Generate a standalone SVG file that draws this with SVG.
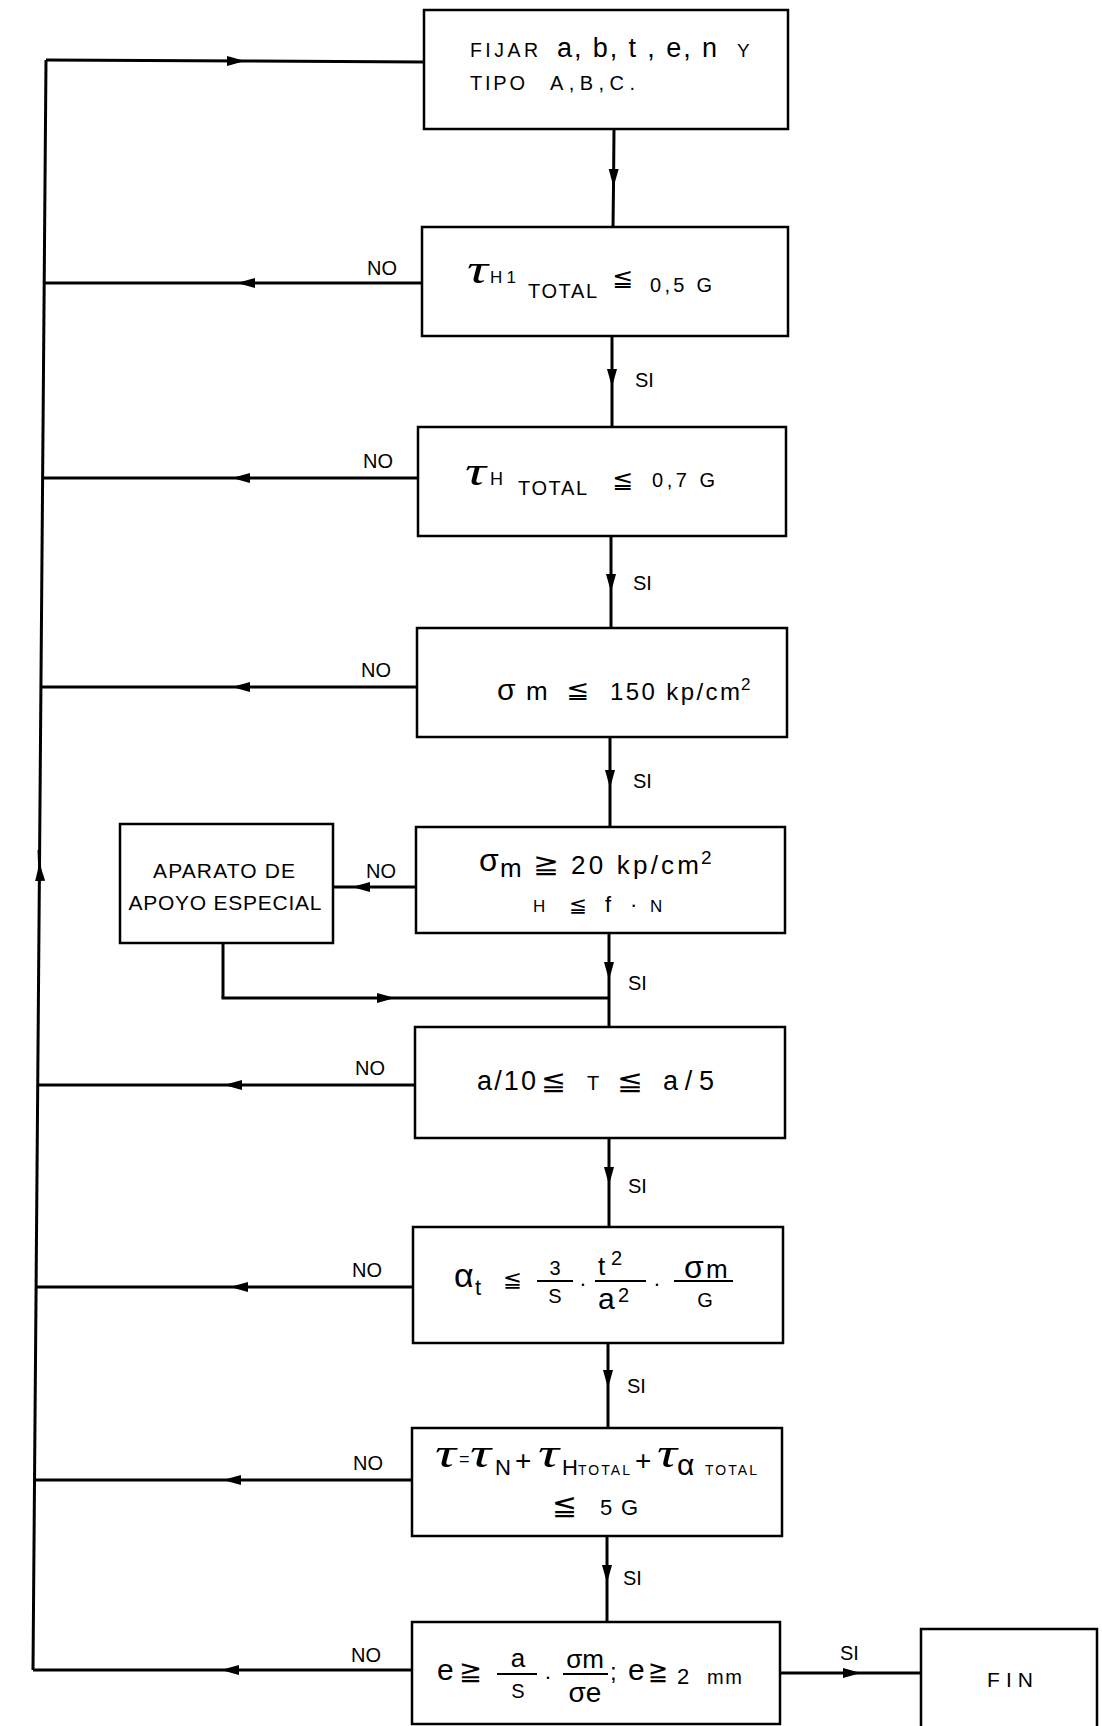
<svg xmlns="http://www.w3.org/2000/svg" width="1102" height="1726" viewBox="0 0 1102 1726">
<style>
.box{fill:none;stroke:#000;stroke-width:2.5}
.ln{fill:none;stroke:#000;stroke-width:3}
text{font-family:"Liberation Sans",Arial,sans-serif;fill:#000}
.lbl{font-size:20px}
.sym{font-family:"DejaVu Sans",sans-serif}
.gr{font-family:"Liberation Serif",serif;font-style:italic;font-size:42px}
.fr{stroke:#000;stroke-width:2}
</style>
<defs>
<marker id="ah" markerUnits="userSpaceOnUse" markerWidth="18" markerHeight="12" viewBox="0 0 18 12" refX="18" refY="6" orient="auto"><path d="M0,1 L18,6 L0,11 z" fill="#000"/></marker>
</defs>
<rect width="1102" height="1726" fill="#fff"/>

<g id="connectors">
<path class="ln" d="M46,60 L33,1670"/>
<path class="ln" d="M40,880 L39.5,863 L39,850" marker-mid="url(#ah)"/>
<path class="ln" d="M46,60 L245,61 L424,62" marker-mid="url(#ah)"/>
<path class="ln" d="M614,129 L613.5,187 L613,227" marker-mid="url(#ah)"/>
<path class="ln" d="M612,336 L612,387 L612,427" marker-mid="url(#ah)"/>
<path class="ln" d="M611,536 L611,592 L611,628" marker-mid="url(#ah)"/>
<path class="ln" d="M610,737 L610,788 L610,827" marker-mid="url(#ah)"/>
<path class="ln" d="M609,933 L609,980 L609,1027" marker-mid="url(#ah)"/>
<path class="ln" d="M609,1138 L609,1185 L609,1227" marker-mid="url(#ah)"/>
<path class="ln" d="M608,1343 L608,1388 L608,1428" marker-mid="url(#ah)"/>
<path class="ln" d="M607,1536 L607,1583 L607,1622" marker-mid="url(#ah)"/>
<path class="ln" d="M422,283 L237,283 L44,283" marker-mid="url(#ah)"/>
<path class="ln" d="M418,478 L232,478 L42.6,478" marker-mid="url(#ah)"/>
<path class="ln" d="M417,687 L232,687 L40.9,687" marker-mid="url(#ah)"/>
<path class="ln" d="M416,887 L352,887 L333,887" marker-mid="url(#ah)"/>
<path class="ln" d="M223,943 L223,998"/>
<path class="ln" d="M221.5,998 L395,998 L609,998" marker-mid="url(#ah)"/>
<path class="ln" d="M415,1085 L224,1085 L37.7,1085" marker-mid="url(#ah)"/>
<path class="ln" d="M413,1287 L230,1287 L36.1,1287" marker-mid="url(#ah)"/>
<path class="ln" d="M412,1480 L223,1480 L34.5,1480" marker-mid="url(#ah)"/>
<path class="ln" d="M412,1670 L221,1670 L33,1670" marker-mid="url(#ah)"/>
<path class="ln" d="M781,1673 L861,1673 L921,1673" marker-mid="url(#ah)"/>
<text class="lbl" x="367" y="275">NO</text>
<text class="lbl" x="363" y="468">NO</text>
<text class="lbl" x="361" y="677">NO</text>
<text class="lbl" x="366" y="878">NO</text>
<text class="lbl" x="355" y="1075">NO</text>
<text class="lbl" x="352" y="1277">NO</text>
<text class="lbl" x="353" y="1470">NO</text>
<text class="lbl" x="351" y="1662">NO</text>
<text class="lbl" x="635" y="387">SI</text>
<text class="lbl" x="633" y="590">SI</text>
<text class="lbl" x="633" y="788">SI</text>
<text class="lbl" x="628" y="990">SI</text>
<text class="lbl" x="628" y="1193">SI</text>
<text class="lbl" x="627" y="1393">SI</text>
<text class="lbl" x="623" y="1585">SI</text>
<text class="lbl" x="840" y="1660">SI</text>
</g>

<g id="n1">
<rect class="box" x="424" y="10" width="364" height="119"/>
<text x="470" y="57" font-size="19.5" textLength="68" lengthAdjust="spacing">FIJAR</text>
<text x="557" y="57" font-size="27" textLength="160" lengthAdjust="spacing">a, b, t , e, n</text>
<text x="737" y="57" font-size="19">Y</text>
<text x="470" y="90" font-size="20" textLength="55" lengthAdjust="spacing">TIPO</text>
<text x="550" y="90" font-size="20" textLength="85" lengthAdjust="spacing">A,B,C.</text>
</g>

<g id="n2">
<rect class="box" x="422" y="227" width="366" height="109"/>
<text class="gr" x="467" y="283" textLength="21" lengthAdjust="spacingAndGlyphs">τ</text>
<text x="490" y="283" font-size="17" textLength="26" lengthAdjust="spacing">H1</text>
<text x="528" y="298" font-size="20" textLength="69" lengthAdjust="spacing">TOTAL</text>
<text class="sym" x="612" y="286" font-size="24" textLength="21" lengthAdjust="spacingAndGlyphs">≦</text>
<text x="650" y="292" font-size="20" textLength="62" lengthAdjust="spacing">0,5 G</text>
</g>

<g id="n3">
<rect class="box" x="418" y="427" width="368" height="109"/>
<text class="gr" x="465" y="485" textLength="21" lengthAdjust="spacingAndGlyphs">τ</text>
<text x="490" y="485" font-size="18">H</text>
<text x="518" y="495" font-size="20" textLength="69" lengthAdjust="spacing">TOTAL</text>
<text class="sym" x="612" y="488" font-size="24" textLength="21" lengthAdjust="spacingAndGlyphs">≦</text>
<text x="652" y="487" font-size="20" textLength="63" lengthAdjust="spacing">0,7 G</text>
</g>

<g id="n4">
<rect class="box" x="417" y="628" width="370" height="109"/>
<text x="497" y="700" font-size="30">σ</text>
<text x="526" y="700" font-size="26">m</text>
<text class="sym" x="566" y="698" font-size="24" textLength="23" lengthAdjust="spacingAndGlyphs">≦</text>
<text x="610" y="700" font-size="24" textLength="130" lengthAdjust="spacing">150 kp/cm</text>
<text x="741" y="690" font-size="17">2</text>
</g>

<g id="n5">
<rect class="box" x="416" y="827" width="369" height="106"/>
<text x="479" y="871" font-size="32">σ</text>
<text x="500" y="877" font-size="26">m</text>
<text class="sym" x="533" y="873" font-size="26" textLength="26" lengthAdjust="spacingAndGlyphs">≧</text>
<text x="571" y="874" font-size="26" textLength="128" lengthAdjust="spacing">20 kp/cm</text>
<text x="701" y="864" font-size="19">2</text>
<text x="533" y="912" font-size="17">H</text>
<text class="sym" x="569" y="912" font-size="20" textLength="18" lengthAdjust="spacingAndGlyphs">≦</text>
<text x="605" y="912" font-size="22">f</text>
<text x="630" y="912" font-size="22">·</text>
<text x="650" y="912" font-size="17">N</text>
</g>

<g id="n5b">
<rect class="box" x="120" y="824" width="213" height="119"/>
<text x="224" y="878" font-size="21" text-anchor="middle" textLength="142" lengthAdjust="spacing">APARATO DE</text>
<text x="225" y="910" font-size="21" text-anchor="middle" textLength="193" lengthAdjust="spacing">APOYO ESPECIAL</text>
</g>

<g id="n6">
<rect class="box" x="415" y="1027" width="370" height="111"/>
<text x="477" y="1090" font-size="27" textLength="59" lengthAdjust="spacing">a/10</text>
<text class="sym" x="541" y="1090" font-size="26" textLength="25" lengthAdjust="spacingAndGlyphs">≦</text>
<text x="587" y="1090" font-size="20">T</text>
<text class="sym" x="617" y="1090" font-size="26" textLength="26" lengthAdjust="spacingAndGlyphs">≦</text>
<text x="663" y="1090" font-size="27" textLength="51" lengthAdjust="spacing">a/5</text>
</g>

<g id="n7">
<rect class="box" x="413" y="1227" width="370" height="116"/>
<text x="454" y="1287" font-size="34">α</text>
<text x="475" y="1295" font-size="22">t</text>
<text class="sym" x="503" y="1287" font-size="22" textLength="19" lengthAdjust="spacingAndGlyphs">≦</text>
<line class="fr" x1="537" y1="1281" x2="573" y2="1281"/>
<text x="555" y="1275" font-size="20" text-anchor="middle">3</text>
<text x="555" y="1303" font-size="20" text-anchor="middle">S</text>
<text x="583" y="1291" font-size="22" text-anchor="middle">·</text>
<line class="fr" x1="595" y1="1281" x2="646" y2="1281"/>
<text x="598" y="1275" font-size="26">t</text>
<text x="611" y="1265" font-size="20">2</text>
<text x="598" y="1309" font-size="30">a</text>
<text x="618" y="1302" font-size="20">2</text>
<text x="657" y="1291" font-size="22" text-anchor="middle">·</text>
<line class="fr" x1="674" y1="1281" x2="733" y2="1281"/>
<text x="684" y="1278" font-size="32">σ</text>
<text x="706" y="1278" font-size="26">m</text>
<text x="705" y="1307" font-size="20" text-anchor="middle">G</text>
</g>

<g id="n8">
<rect class="box" x="412" y="1428" width="370" height="108"/>
<text class="gr" x="435" y="1467" textLength="21" lengthAdjust="spacingAndGlyphs">τ</text>
<text x="459" y="1465" font-size="18">=</text>
<text class="gr" x="470" y="1467" textLength="21" lengthAdjust="spacingAndGlyphs">τ</text>
<text x="495" y="1475" font-size="22">N</text>
<text x="515" y="1470" font-size="28">+</text>
<text class="gr" x="538" y="1467" textLength="21" lengthAdjust="spacingAndGlyphs">τ</text>
<text x="562" y="1475" font-size="22">H</text>
<text x="578" y="1475" font-size="14" textLength="52" lengthAdjust="spacing">TOTAL</text>
<text x="635" y="1470" font-size="28">+</text>
<text class="gr" x="657" y="1467" textLength="20" lengthAdjust="spacingAndGlyphs">τ</text>
<text x="677" y="1475" font-size="30">α</text>
<text x="705" y="1475" font-size="14" textLength="52" lengthAdjust="spacing">TOTAL</text>
<text class="sym" x="552" y="1515" font-size="28" textLength="25" lengthAdjust="spacingAndGlyphs">≦</text>
<text x="600" y="1515" font-size="22" textLength="38" lengthAdjust="spacing">5 G</text>
</g>

<g id="n9">
<rect class="box" x="412" y="1622" width="368" height="102"/>
<text x="437" y="1680" font-size="30">e</text>
<text class="sym" x="459" y="1680" font-size="26" textLength="23" lengthAdjust="spacingAndGlyphs">≧</text>
<line class="fr" x1="497" y1="1674" x2="537" y2="1674"/>
<text x="518" y="1667" font-size="26" text-anchor="middle">a</text>
<text x="518" y="1698" font-size="20" text-anchor="middle">S</text>
<text x="548" y="1684" font-size="22" text-anchor="middle">·</text>
<line class="fr" x1="563" y1="1674" x2="608" y2="1674"/>
<text x="585" y="1668" font-size="26" text-anchor="middle">σm</text>
<text x="585" y="1702" font-size="28" text-anchor="middle">σe</text>
<text x="610" y="1680" font-size="24">;</text>
<text x="628" y="1680" font-size="30">e</text>
<text class="sym" x="648" y="1680" font-size="26" textLength="20" lengthAdjust="spacingAndGlyphs">≧</text>
<text x="677" y="1684" font-size="22">2</text>
<text x="707" y="1684" font-size="20" textLength="35" lengthAdjust="spacing">mm</text>
</g>

<g id="n10">
<rect class="box" x="921" y="1629" width="176" height="100"/>
<text x="987" y="1687" font-size="21" textLength="46" lengthAdjust="spacing">FIN</text>
</g>
</svg>
